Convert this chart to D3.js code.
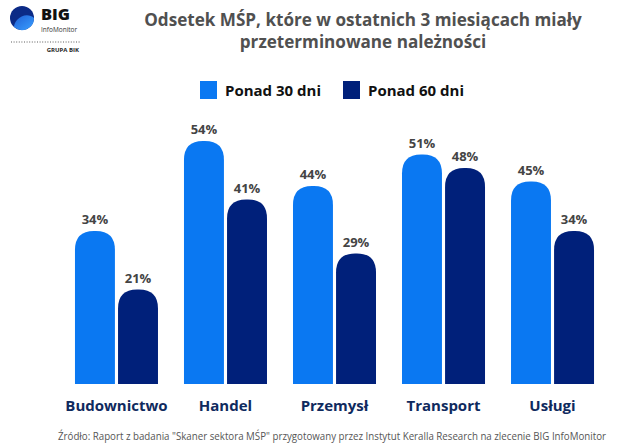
<!DOCTYPE html>
<html><head><meta charset="utf-8">
<script src="https://cdn.jsdelivr.net/npm/d3@7"></script>
<style>body{margin:0;background:#fff}svg{display:block;font-family:"Open Sans",sans-serif}</style>
</head><body><svg id="c" width="640" height="448"></svg>
<script>
const categories = ["Budownictwo","Handel","Przemysł","Transport","Usługi"];
const seriesNames = ["Ponad 30 dni","Ponad 60 dni"];
const over30 = [34,54,44,51,45];
const over60 = [21,41,29,48,34];
const colors = ["#0a78f2","#00207a"];
const titleLines = ["Odsetek MŚP, które w ostatnich 3 miesiącach miały","przeterminowane należności"];
const source = "Źródło: Raport z badania \"Skaner sektora MŚP\" przygotowany przez Instytut Keralla Research na zlecenie BIG InfoMonitor";

const svg = d3.select("#c");
const data = categories.map((c,i)=>({cat:c, vals:[over30[i],over60[i]]}));

const x0 = d3.scaleBand().domain(categories).range([62,607]).paddingInner(0.2385).paddingOuter(0.119);
const x1 = d3.scaleBand().domain([0,1]).range([0,x0.bandwidth()]).paddingInner(0.072);
const y = d3.scaleLinear().domain([0,100]).range([384,-66]);

// logo
const defs = svg.append("defs");
const g1 = defs.append("linearGradient").attr("id","lg").attr("x1","0").attr("y1","0").attr("x2","1").attr("y2","1");
g1.append("stop").attr("offset","0").attr("stop-color","#1f5fd6");
g1.append("stop").attr("offset","1").attr("stop-color","#3aa0ff");
svg.append("circle").attr("cx",22).attr("cy",18).attr("r",12).attr("fill","#0b2a86");
svg.append("path").attr("d","M14,27 A12,12 0 0 0 34,18 C30,14 22,14 17,20 C15,22 14,25 14,27 Z").attr("fill","url(#lg)");
svg.append("text").attr("x",41).attr("y",20).attr("font-size",16.5).attr("font-weight",800).attr("fill","#111").text("BIG");
svg.append("text").attr("x",41).attr("y",32).attr("font-size",6.5).attr("fill","#333").text("InfoMonitor");
svg.append("line").attr("x1",11).attr("x2",80).attr("y1",42).attr("y2",42).attr("stroke","#333").attr("stroke-width",0.8).attr("stroke-dasharray","1,1.6");
svg.append("text").attr("x",79).attr("y",52).attr("text-anchor","end").attr("font-size",6).attr("font-weight",700).attr("fill","#222").text("GRUPA BIK");

// title
svg.selectAll("text.title").data(titleLines).join("text").attr("class","title")
  .attr("x",363).attr("y",(d,i)=>26+i*22).attr("text-anchor","middle")
  .attr("font-size",17.1).attr("font-weight",700).attr("fill","#505050").text(d=>d);

// legend
const legX = [200,343];
seriesNames.forEach((s,i)=>{
  svg.append("rect").attr("x",legX[i]).attr("y",81).attr("width",17).attr("height",18).attr("fill",colors[i]);
  svg.append("text").attr("x",legX[i]+25).attr("y",96).attr("font-size",15).attr("font-weight",700).attr("fill","#111").text(s);
});

function barPath(x,w,yt,yb){
  const r = Math.min(w/2*0.95, yb-yt);
  return `M${x},${yb}V${yt+r}Q${x},${yt} ${x+r},${yt}H${x+w-r}Q${x+w},${yt} ${x+w},${yt+r}V${yb}Z`;
}
const groups = svg.selectAll("g.grp").data(data).join("g").attr("class","grp")
  .attr("transform",d=>`translate(${x0(d.cat)},0)`);
groups.selectAll("path").data(d=>d.vals.map((v,i)=>({v,i}))).join("path")
  .attr("d",d=>barPath(x1(d.i),x1.bandwidth(),y(d.v),y(0)))
  .attr("fill",d=>colors[d.i]);
groups.selectAll("text.val").data(d=>d.vals.map((v,i)=>({v,i}))).join("text").attr("class","val")
  .attr("x",d=>x1(d.i)+x1.bandwidth()/2).attr("y",d=>y(d.v)-7)
  .attr("text-anchor","middle").attr("font-size",13).attr("font-weight",700).attr("fill","#444")
  .text(d=>d.v+"%");
groups.append("text").attr("x",x0.bandwidth()/2).attr("y",411).attr("text-anchor","middle")
  .attr("font-size",15).attr("font-weight",700).attr("fill","#0f2a5e").text(d=>d.cat);

svg.append("text").attr("x",332).attr("y",440).attr("text-anchor","middle").attr("font-size",10)
  .attr("fill","#555").attr("textLength",548).attr("lengthAdjust","spacingAndGlyphs").text(source);
</script></body></html>
